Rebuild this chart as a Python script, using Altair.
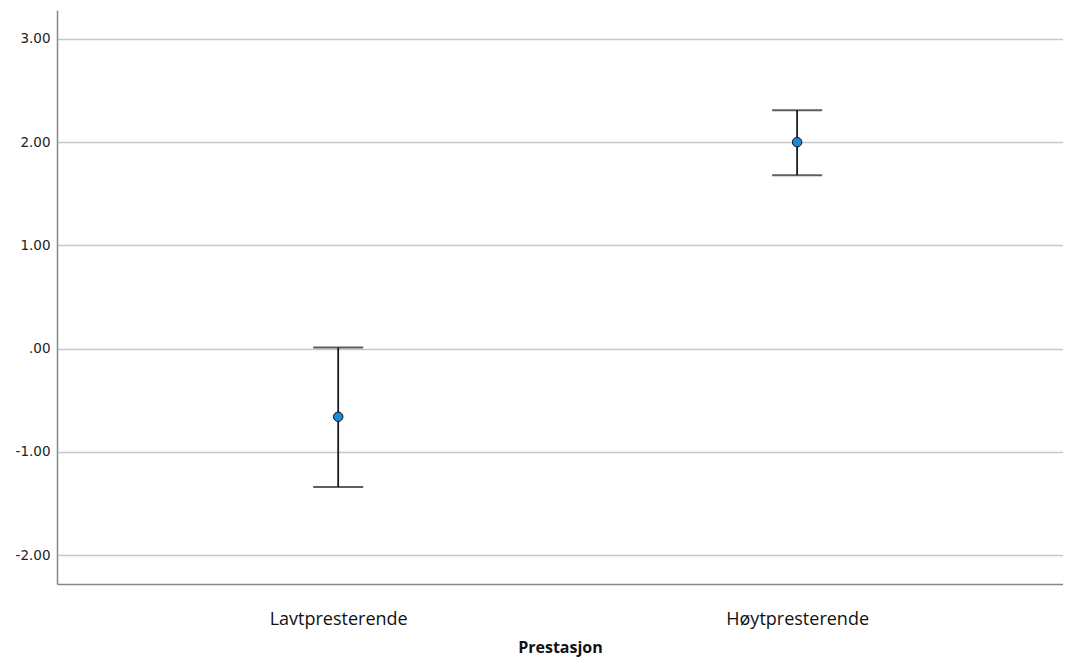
import altair as alt
import pandas as pd

groups = ["Lavtpresterende", "Høytpresterende"]
means = [-0.66, 2.00]
lower = [-1.34, 1.68]
upper = [0.01, 2.31]

df = pd.DataFrame({"group": groups, "mean": means, "lower": lower, "upper": upper})

x = alt.X("group:N", sort=groups,
          scale=alt.Scale(type="point", padding=0.596, align=0.514),
          axis=alt.Axis(title="Prestasjon", labelAngle=0, labelFont="Open Sans", labelFontSize=18,
                        labelColor="#111", labelPadding=26, titleFont="Open Sans", titleFontSize=16,
                        titleFontWeight="bold", titlePadding=11, titleColor="#111",
                        ticks=False, grid=False, domainColor="#888", domainWidth=1.5))
yscale = alt.Scale(domain=[-2.28, 3.28], nice=False, zero=False)
yaxis = alt.Axis(title=None, values=[-2, -1, 0, 1, 2, 3], ticks=False,
                 labelExpr="datum.value == 0 ? '.00' : (datum.value < 0 ? '-' : '') + format(abs(datum.value), '.2f')",
                 labelFont="DejaVu Sans", labelFontSize=13.5, labelColor="#222", labelPadding=7,
                 grid=True, gridColor="#c8c8c8", gridWidth=1.5,
                 domainColor="#888", domainWidth=1.5)

base = alt.Chart(df)
rule = base.mark_rule(color="#1a1a1a", strokeWidth=1.8).encode(
    x=x, y=alt.Y("lower:Q", scale=yscale, axis=yaxis), y2="upper:Q")
cap_hi = base.mark_tick(color="#1a1a1a", size=50, thickness=2).encode(x=x, y=alt.Y("upper:Q", scale=yscale))
cap_lo = base.mark_tick(color="#1a1a1a", size=50, thickness=2).encode(x=x, y=alt.Y("lower:Q", scale=yscale))
pt = base.mark_point(filled=True, fill="#1a8ad8", stroke="#111", strokeWidth=1, size=90, opacity=1).encode(
    x=x, y=alt.Y("mean:Q", scale=yscale))

chart = alt.layer(rule, cap_hi, cap_lo, pt).properties(
    width=1006, height=574,
    autosize=alt.AutoSizeParams(type="none"),
    padding={"left": 49, "top": 2, "right": 0, "bottom": 80},
).configure(background="white").configure_view(strokeWidth=0, stroke="transparent")

chart.save("out.html", embed_options={"renderer": "svg", "actions": False})
